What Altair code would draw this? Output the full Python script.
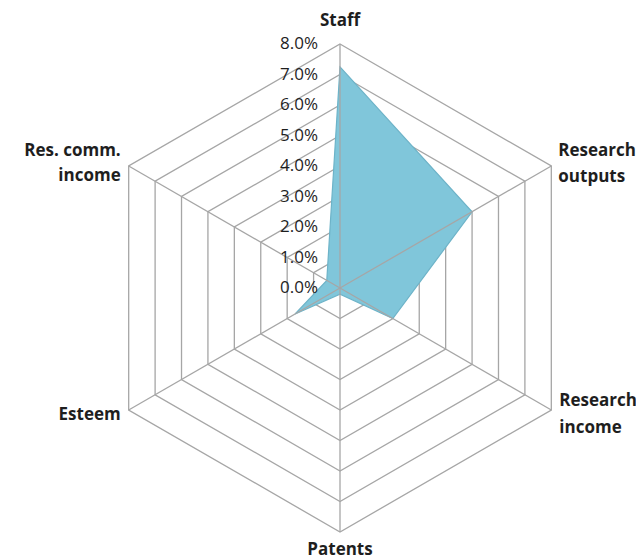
import altair as alt
import numpy as np
import pandas as pd

# ---- data ----
axes = ["Staff", "Research outputs", "Research income", "Patents", "Esteem", "Res. comm. income"]
axis_labels = ["Staff", "Research\noutputs", "Research\nincome", "Patents", "Esteem", "Res. comm.\nincome"]
values = [7.25, 5.0, 2.0, 0.2, 1.7, 0.5]          # percent
ticks = [0, 1, 2, 3, 4, 5, 6, 7, 8]
tick_labels = ["0.0%", "1.0%", "2.0%", "3.0%", "4.0%", "5.0%", "6.0%", "7.0%", "8.0%"]
rmax = 8

n = len(axes)
ang = np.deg2rad(90 - 360 / n * np.arange(n))
cx, cy = np.cos(ang), np.sin(ang)

series = pd.DataFrame({"axis": axes, "i": range(n), "v": values})
series["x"] = series["v"] * cx
series["y"] = series["v"] * cy

rings = pd.DataFrame([{"ring": t, "i": i, "x": t * cx[i], "y": t * cy[i]}
                      for t in ticks[1:] for i in range(n)])

spokes = pd.DataFrame({"i": range(n), "x": 0.0, "y": 0.0,
                       "x2": rmax * cx, "y2": rmax * cy})

labels = pd.DataFrame({"axis": axes, "label": axis_labels, "x": rmax * cx, "y": rmax * cy})

tickdf = pd.DataFrame({"t": ticks, "label": tick_labels})
tickdf["x"] = 0.0
tickdf["y"] = tickdf["t"]

# ---- scales (px per unit = 30.5) ----
W, H = 628, 552
k = 30.5
xs = alt.Scale(domain=[-332 / k, (W - 332) / k], nice=False, zero=False)
ys = alt.Scale(domain=[-(H - 280) / k, 280 / k], nice=False, zero=False)
X = lambda f: alt.X(f, type="quantitative", scale=xs, axis=None)
Y = lambda f: alt.Y(f, type="quantitative", scale=ys, axis=None)

grid_col = "#A6A6A6"
font = "Open Sans"
txt_col = "#1E1E1E"

ring_layer = alt.Chart(rings).mark_line(
    interpolate="linear-closed", stroke=grid_col, strokeWidth=1.3
).encode(x=X("x"), y=Y("y"), detail="ring:N", order="i:Q")

fill_layer = alt.Chart(series).mark_line(
    interpolate="linear-closed", fill="#80C6DA", stroke="#6DB3C8", strokeWidth=1.2
).encode(x=X("x"), y=Y("y"), order="i:Q")

spoke_layer = alt.Chart(spokes).mark_rule(stroke=grid_col, strokeWidth=1.3).encode(
    x=X("x"), y=Y("y"), x2="x2", y2="y2")

# label placement styles (align, dx, dy, lineHeight)
label_style = {
    "Staff": ("center", 0, -23, 26),
    "Research outputs": ("left", 7, -15, 26),
    "Research income": ("left", 8, -9, 27),
    "Patents": ("center", 0, 18, 26),
    "Esteem": ("right", -8, 5, 26),
    "Res. comm. income": ("right", -8, -15, 25),
}

label_layers = []
for name, (al, dx, dy, lh) in label_style.items():
    label_layers.append(
        alt.Chart(labels).transform_filter(alt.datum.axis == name).mark_text(
            font=font, fontSize=17, fontWeight="bold", color=txt_col,
            lineBreak="\n", lineHeight=lh, align=al, baseline="middle", dx=dx, dy=dy
        ).encode(x=X("x"), y=Y("y"), text="label:N")
    )

tick_layer = alt.Chart(tickdf).mark_text(
    font=font, fontSize=17, color=txt_col, align="right", baseline="middle", dx=-22
).encode(x=X("x"), y=Y("y"), text="label:N")

chart = alt.layer(
    ring_layer, fill_layer, spoke_layer, tick_layer, *label_layers
).properties(
    width=W, height=H, padding=0,
    autosize=alt.AutoSizeParams(type="none"),
    background="white"
).configure_view(stroke=None)

chart.save("out.html", embed_options={"renderer": "svg", "actions": False})
